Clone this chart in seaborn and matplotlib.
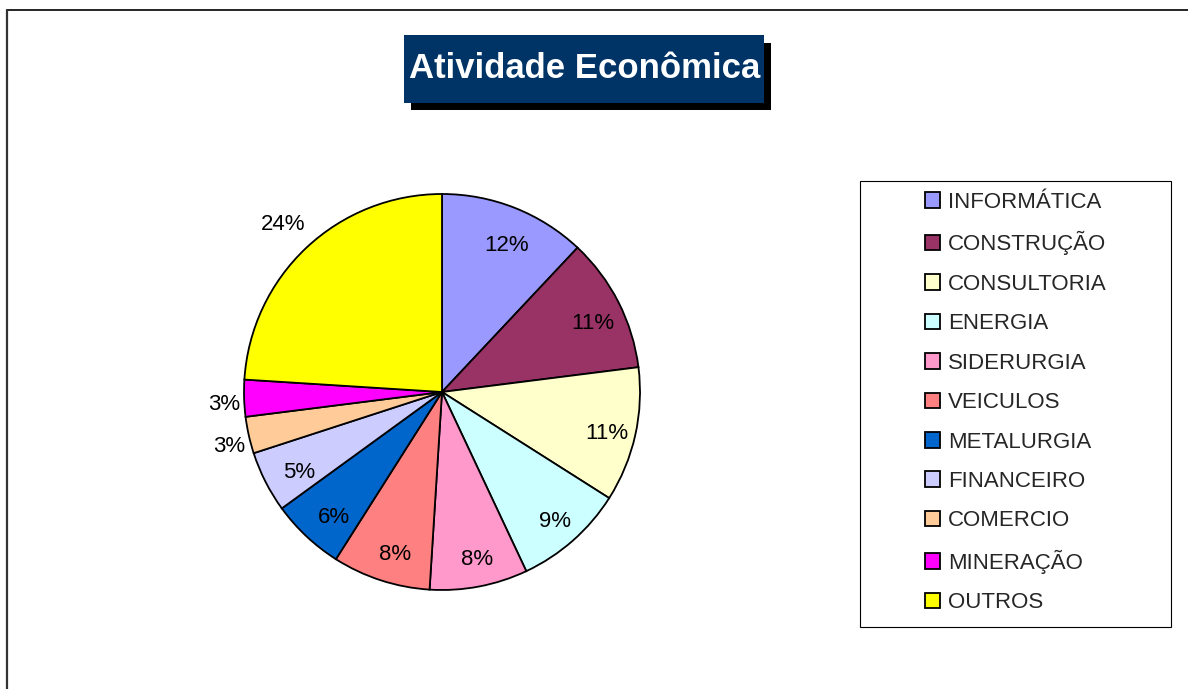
import numpy as np
import matplotlib
matplotlib.use('Agg')
import matplotlib.pyplot as plt
import seaborn as sns
from matplotlib.patches import Rectangle
from matplotlib.lines import Line2D

# Data
sectors = ['INFORMÁTICA', 'CONSTRUÇÃO', 'CONSULTORIA', 'ENERGIA', 'SIDERURGIA',
           'VEICULOS', 'METALURGIA', 'FINANCEIRO', 'COMERCIO', 'MINERAÇÃO', 'OUTROS']
shares = [12, 11, 11, 9, 8, 8, 6, 5, 3, 3, 24]
colors = ['#9999FF', '#993366', '#FFFFCC', '#CCFFFF', '#FF99CC',
          '#FF8080', '#0066CC', '#CCCCFF', '#FFCC99', '#FF00FF', '#FFFF00']

sns.set_style('white')
plt.rcParams['font.family'] = ['Liberation Sans', 'DejaVu Sans']

W, H = 1188, 689
fig = plt.figure(figsize=(W / 100, H / 100), dpi=100)

def fx(px):
    return px / W

def fy(py):
    return 1 - py / H

# outer frame (top and left edges only visible)
fig.add_artist(Line2D([fx(7), 1.0], [fy(10), fy(10)], color='black', lw=1.2))
fig.add_artist(Line2D([fx(7), fx(7)], [fy(10), 0.0], color='#333333', lw=1.6))

# title box with shadow
fig.add_artist(Rectangle((fx(411), fy(110)), fx(360), 67 / H, facecolor='black',
                         edgecolor='none', transform=fig.transFigure))
fig.add_artist(Rectangle((fx(404), fy(103)), fx(360), 68 / H, facecolor='#003366',
                         edgecolor='none', transform=fig.transFigure))
fig.text(fx(585), fy(69), 'Atividade Econômica', color='white', fontsize=25,
         fontweight='bold', ha='center', va='center')

# pie
ax = fig.add_axes([fx(244), fy(590), 396 / W, 396 / H])
wedges, texts, autotexts = ax.pie(
    shares, colors=colors, startangle=90, counterclock=False,
    autopct='%1.0f%%', pctdistance=0.83,
    wedgeprops=dict(edgecolor='black', linewidth=1.3),
    textprops=dict(fontsize=16, color='black'))
ax.set_xlim(-1, 1)
ax.set_ylim(-1, 1)
ax.set_aspect('equal')
ax.axis('off')

big = max(shares)
for w, t, s in zip(wedges, autotexts, shares):
    mid = np.deg2rad((w.theta1 + w.theta2) / 2)
    r = 0.83
    if s <= 3:
        r = 1.12
    elif s == big:
        r = 1.2
    t.set_position((r * np.cos(mid) + 0.02, r * np.sin(mid) - 0.03))
    t.set_clip_on(False)

# legend box
fig.add_artist(Rectangle((fx(860), fy(627)), fx(311), 446 / H, facecolor='white',
                         edgecolor='black', lw=0.8, transform=fig.transFigure))
fig.legend(wedges, sectors, loc='upper left', bbox_to_anchor=(fx(907), fy(174)),
           frameon=False, fontsize=16, handlelength=0.7, handleheight=0.7,
           handletextpad=0.35, labelspacing=0.83, borderpad=0.3)

fig.savefig('out.png', dpi=100)
